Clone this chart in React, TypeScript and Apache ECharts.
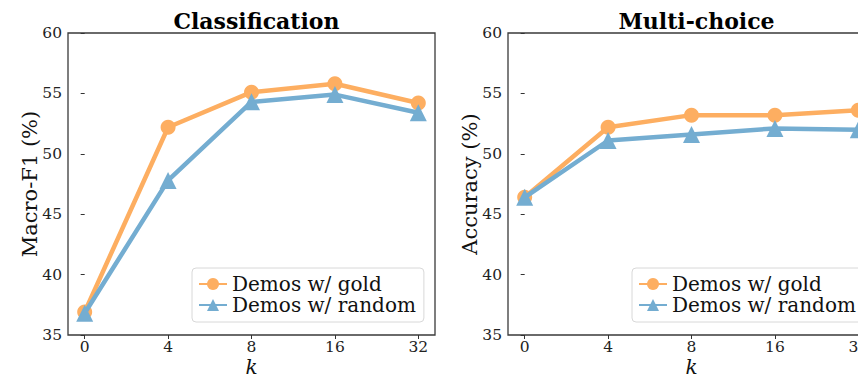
import React, { useEffect, useRef } from "react";
import * as echarts from "echarts";

const kLabels = ["0", "4", "8", "16", "32"];
const kIndex = [0, 1, 2, 3, 4];
const clsGold = [36.9, 52.2, 55.1, 55.8, 54.2];
const clsRandom = [36.8, 47.8, 54.3, 54.9, 53.4];
const mcGold = [46.4, 52.2, 53.2, 53.2, 53.6];
const mcRandom = [46.4, 51.1, 51.6, 52.1, 52.0];
const panelTitles = ["Classification", "Multi-choice"];
const yTitles = ["Macro-F1 (%)", "Accuracy (%)"];
const seriesNames = ["Demos w/ gold", "Demos w/ random"];

const ORANGE = "#fdae61";
const BLUE = "#74add1";
const FONT = "DejaVu Serif";

export default function App() {
  const ref = useRef<HTMLDivElement>(null);
  useEffect(() => {
    if (!ref.current) return;
    const chart = echarts.init(ref.current, null, { renderer: "svg" });
    const lefts = [68, 508];
    const gridTop = 33;
    const gridH = 302;
    const gridW = 367;
    const data = [
      [clsGold, clsRandom],
      [mcGold, mcRandom],
    ];
    const grids = lefts.map((l) => ({
      left: l,
      top: gridTop,
      width: gridW,
      height: gridH,
      containLabel: false,
      outerBoundsMode: "none",
      show: true,
      borderColor: "#3a3a3a",
      borderWidth: 1.3,
      backgroundColor: "transparent",
    }));
    const xAxes = lefts.map((_, i) => ({
      type: "value",
      gridIndex: i,
      min: -0.2,
      max: 4.2,
      name: "k",
      nameLocation: "middle",
      nameMoveOverlap: false,
      nameGap: 22,
      nameTextStyle: { fontFamily: FONT, fontSize: 20, fontStyle: "italic", color: "#111" },
      splitLine: { show: false },
      axisLine: { show: false },
      axisTick: { show: true, inside: false, length: 4, customValues: kIndex, lineStyle: { color: "#333" } },
      axisLabel: {
        customValues: kIndex,
        margin: 4,
        fontFamily: FONT,
        fontSize: 15.5,
        color: "#222",
        formatter: (v: number) => kLabels[Math.round(v)] ?? "",
      },
    }));
    const yAxes = lefts.map((_, i) => ({
      type: "value",
      gridIndex: i,
      min: 35,
      max: 60,
      interval: 5,
      name: yTitles[i],
      nameLocation: "middle",
      nameMoveOverlap: false,
      nameGap: 28,
      nameTextStyle: { fontFamily: FONT, fontSize: 21, color: "#111" },
      splitLine: { show: false },
      axisLine: { show: false },
      axisTick: { show: true, inside: false, length: 4, lineStyle: { color: "#333" } },
      axisLabel: { margin: 6, fontFamily: FONT, fontSize: 15.5, color: "#222" },
    }));
    const series: any[] = [];
    data.forEach((pair, i) => {
      series.push({
        type: "line",
        name: seriesNames[0],
        xAxisIndex: i,
        yAxisIndex: i,
        data: kIndex.map((x, j) => [x, pair[0][j]]),
        symbol: "circle",
        symbolSize: 15,
        lineStyle: { color: ORANGE, width: 4.5 },
        itemStyle: { color: ORANGE },
        z: 2,
      });
      series.push({
        type: "line",
        name: seriesNames[1],
        xAxisIndex: i,
        yAxisIndex: i,
        data: kIndex.map((x, j) => [x, pair[1][j]]),
        symbol: "triangle",
        symbolSize: 17,
        lineStyle: { color: BLUE, width: 4.5 },
        itemStyle: { color: BLUE },
        z: 3,
      });
    });
    const titles = lefts.map((l, i) => ({
      text: panelTitles[i],
      left: l + gridW / 2,
      top: 5,
      textAlign: "center",
      textStyle: { fontFamily: FONT, fontSize: 22, fontWeight: "bold", color: "#000" },
    }));
    const legends = lefts.map((l) => ({
      data: seriesNames,
      orient: "vertical",
      left: l + 124,
      top: 268,
      itemWidth: 28,
      itemHeight: 15,
      itemGap: 1,
      padding: [6, 8, 7, 6],
      borderColor: "#d8d8d8",
      borderWidth: 1,
      borderRadius: 4,
      backgroundColor: "rgba(255,255,255,0.8)",
      selectedMode: false,
      textStyle: { fontFamily: FONT, fontSize: 20, lineHeight: 20, color: "#111" },
    }));
    chart.setOption({
      animation: false,
      backgroundColor: "#fff",
      title: titles,
      legend: legends,
      grid: grids,
      xAxis: xAxes,
      yAxis: yAxes,
      series,
    });
    return () => chart.dispose();
  }, []);
  return (
    <div style={{ position: "fixed", left: 0, top: 0, width: 858, height: 377, overflow: "hidden" }}>
      <div ref={ref} style={{ width: 858, height: 377 }} />
    </div>
  );
}
